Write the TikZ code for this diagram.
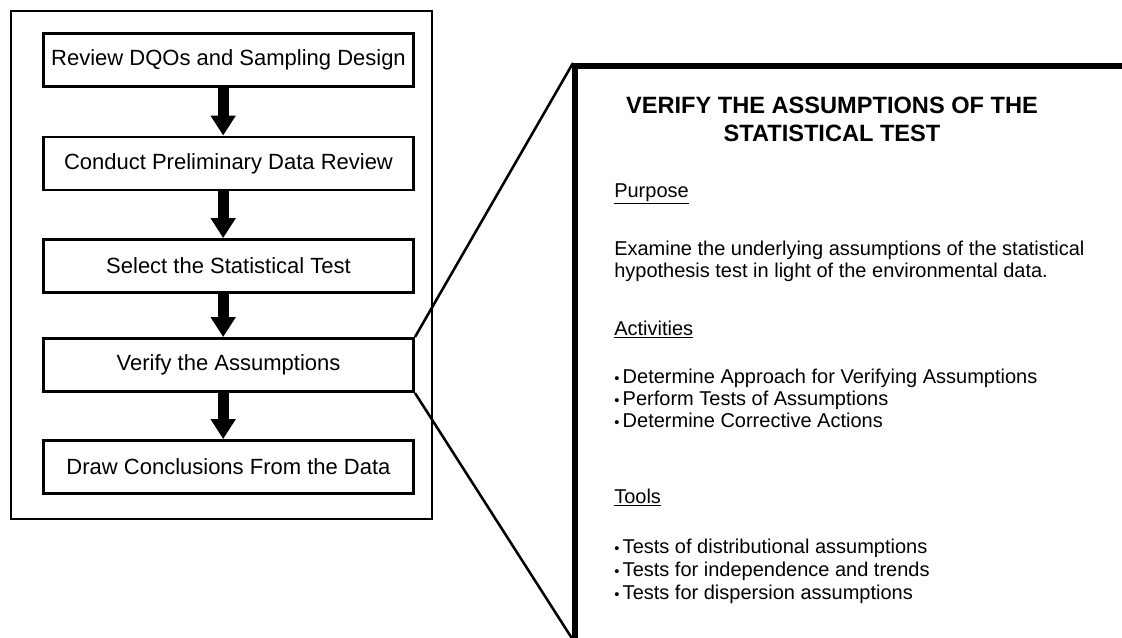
\documentclass[tikz,border=0pt]{standalone}
\usepackage{fontspec}
\setmainfont{Liberation Sans}
\usetikzlibrary{arrows.meta}
\tikzset{
  stepbox/.style={draw, line width=2.2pt, minimum width=277.5pt, minimum height=39.75pt, inner sep=0pt, font=\fontsize{16.5}{19}\selectfont},
  flowarrow/.style={line width=8.25pt, -{Triangle[width=18pt,length=15pt]}},
  zoomline/.style={line width=1.9pt},
  panelline/.style={line width=4.8pt},
  body/.style={anchor=base west, inner sep=0pt, font=\fontsize{15}{17}\selectfont},
  titletext/.style={anchor=base, inner sep=0pt, font=\fontsize{17.7}{20}\selectfont\bfseries}
}
\begin{document}
\begin{tikzpicture}[x=0.75pt,y=-0.75pt]
\useasboundingbox (0,0) rectangle (1122,637);
% outer frame
\draw[line width=2.2pt] (11,11) rectangle (432,519);
% steps
\node[stepbox] (b1) at (228.5,60) {Review DQOs and Sampling Design};
\node[stepbox] (b2) at (228.5,163.5) {Conduct Preliminary Data Review};
\node[stepbox] (b3) at (228.5,266) {Select the Statistical Test};
\node[stepbox] (b4) at (228.5,365) {Verify the Assumptions};
\node[stepbox] (b5) at (228.5,467) {Draw Conclusions From the Data};
% arrows
\draw[flowarrow] ([xshift=-4pt]b1.south) -- ([xshift=-4pt]b2.north);
\draw[flowarrow] ([xshift=-4pt]b2.south) -- ([xshift=-4pt]b3.north);
\draw[flowarrow] ([xshift=-4pt]b3.south) -- ([xshift=-4pt]b4.north);
\draw[flowarrow] ([xshift=-4pt]b4.south) -- ([xshift=-4pt]b5.north);
% panel
\coordinate (ptl) at (575,66);
\coordinate (pbl) at (575,645);
\coordinate (ptr) at (1130,66);
\coordinate (ztop) at (573,63);
\coordinate (zbot) at (573,640);
\draw[panelline] (pbl) -- (ptl) -- (ptr);
\draw[zoomline] (b4.north east) -- (ztop);
\draw[zoomline] (b4.south east) -- (zbot);
% panel text
\node[titletext] (t1) at (832,113) {VERIFY THE ASSUMPTIONS OF THE};
\node[titletext] (t2) at (832,141) {STATISTICAL TEST};
\node[body] (h1) at (614,197) {\underline{Purpose}};
\node[body] (p1) at (614,255) {Examine the underlying assumptions of the statistical};
\node[body] (p2) at (614,277) {hypothesis test in light of the environmental data.};
\node[body] (h2) at (614,335) {\underline{Activities}};
\node[body] (a1) at (614,383) {{\fontsize{11}{13}\selectfont\textbullet}\,Determine Approach for Verifying Assumptions};
\node[body] (a2) at (614,405) {{\fontsize{11}{13}\selectfont\textbullet}\,Perform Tests of Assumptions};
\node[body] (a3) at (614,427) {{\fontsize{11}{13}\selectfont\textbullet}\,Determine Corrective Actions};
\node[body] (h3) at (614,503) {\underline{Tools}};
\node[body] (c1) at (614,553) {{\fontsize{11}{13}\selectfont\textbullet}\,Tests of distributional assumptions};
\node[body] (c2) at (614,576) {{\fontsize{11}{13}\selectfont\textbullet}\,Tests for independence and trends};
\node[body] (c3) at (614,599) {{\fontsize{11}{13}\selectfont\textbullet}\,Tests for dispersion assumptions};
\end{tikzpicture}
\end{document}
